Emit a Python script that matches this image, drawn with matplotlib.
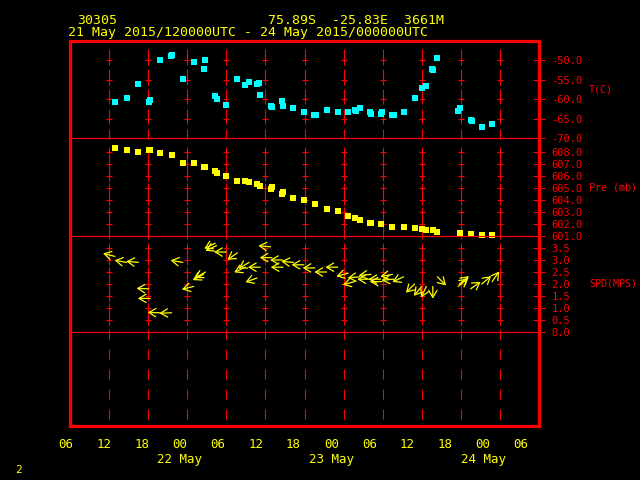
"""Meteogram of station 30305, 21-24 May 2015, drawn in the GEMPAK look."""

import matplotlib

matplotlib.use("Agg")
import matplotlib.dates as mdates
import matplotlib.pyplot as plt
import numpy as np
import pandas as pd
from matplotlib.ticker import FixedLocator, FormatStrFormatter

plt.rcParams["axes.unicode_minus"] = False
plt.rcParams["lines.scale_dashes"] = False
plt.rcParams["font.family"] = ["DejaVu Sans Mono"]

RED = "#ff0000"
YELLOW = "#ffff00"
CYAN = "#00ffff"

START = pd.Timestamp("2015-05-21 00:00")
X_START = pd.Timestamp("2015-05-21 06:00")
X_END = pd.Timestamp("2015-05-24 06:00")

# hours after 21 May 2015 00 UTC
temp_hours = [12.9, 14.7, 16.5, 18.1, 18.3, 19.8, 21.5, 21.7, 23.3, 25.0, 26.5, 26.8,
              28.3, 28.5, 30.0, 31.7, 32.9, 33.5, 34.7, 35.0, 35.2, 36.8, 37.0, 38.6,
              38.7, 40.3, 41.9, 43.5, 43.8, 45.4, 47.1, 48.7, 49.7, 49.9, 50.5, 52.0,
              52.2, 53.7, 53.9, 55.5, 55.7, 57.2, 58.9, 60.0, 60.7, 61.6, 61.8, 62.4,
              65.6, 65.9, 67.5, 67.7, 69.2, 70.8]
temp_c = [-60.6, -59.7, -56.0, -60.7, -60.3, -49.9, -48.9, -48.5, -54.8, -50.4, -52.2, -49.9,
          -59.2, -60.0, -61.5, -54.8, -56.3, -55.6, -56.2, -55.9, -58.9, -61.8, -62.1, -60.5,
          -61.8, -62.3, -63.3, -64.1, -64.1, -62.8, -63.3, -63.3, -62.8, -63.0, -62.3, -63.3,
          -63.8, -63.8, -63.3, -64.1, -64.1, -63.3, -59.7, -57.1, -56.6, -52.2, -52.5, -49.4,
          -63.0, -62.3, -65.4, -65.6, -67.2, -66.4]

pres_hours = [12.9, 14.7, 16.5, 18.1, 18.3, 19.8, 21.6, 23.3, 25.0, 26.5, 26.8, 28.3,
              28.5, 30.0, 31.7, 32.9, 33.5, 34.7, 35.2, 36.8, 37.0, 38.6, 38.7, 40.3,
              41.9, 43.6, 45.4, 47.1, 48.7, 49.7, 50.5, 52.0, 52.2, 53.7, 55.5, 57.2,
              58.9, 60.0, 60.7, 61.7, 62.4, 65.8, 67.5, 69.2, 70.8]
pres_mb = [608.33, 608.17, 608.0, 608.17, 608.17, 607.9, 607.75, 607.08, 607.08, 606.75,
           606.75, 606.4, 606.25, 606.0, 605.6, 605.6, 605.5, 605.33, 605.17, 604.95,
           605.05, 604.5, 604.65, 604.2, 604.0, 603.67, 603.25, 603.1, 602.67, 602.5,
           602.33, 602.1, 602.05, 602.0, 601.75, 601.75, 601.67, 601.6, 601.5, 601.5,
           601.33, 601.25, 601.17, 601.08, 601.08]

wind_hours = [12.9, 14.7, 16.5, 18.1, 18.3, 19.8, 21.6, 23.3, 25.0, 26.5, 26.8, 28.3,
              28.5, 30.0, 31.7, 32.9, 33.5, 34.7, 35.2, 36.8, 37.0, 38.6, 38.7, 40.3,
              41.9, 43.6, 45.4, 47.1, 48.7, 49.7, 50.5, 52.0, 52.2, 53.7, 53.9, 55.5,
              55.7, 57.2, 58.9, 60.0, 60.7, 61.7, 62.4, 65.6, 65.8, 67.5, 69.2, 70.8]
wind_spd = [3.15, 2.9, 2.9, 1.8, 1.4, 0.8, 0.8, 2.9, 1.9, 2.4, 2.5, 3.7,
            3.6, 3.33, 3.3, 2.7, 2.9, 2.25, 2.7, 3.55, 3.1, 3.0, 2.7, 2.9,
            2.8, 2.67, 2.5, 2.7, 2.45, 2.1, 2.3, 2.2, 2.4, 2.2, 2.1, 2.4,
            2.2, 2.3, 2.0, 1.9, 1.9, 1.9, 2.3, 1.9, 2.0, 1.8, 2.0, 2.1]
# direction the arrow points to, degrees counter-clockwise from east
wind_dir = [166, 170, 175, 178, 180, 178, 182, 170, 194, 208, 210, 206,
            205, 180, 215, 205, 210, 200, 180, 175, 180, 180, 180, 175,
            180, 180, 180, 180, 195, 195, 185, 180, 185, 180, 180, 190,
            185, 205, 225, 230, 245, 270, 315, 40, 40, 35, 40, 55]

temp_ticks = [-70, -65, -60, -55, -50]
pres_ticks = [601, 602, 603, 604, 605, 606, 607, 608]
spd_ticks = [0.0, 0.5, 1.0, 1.5, 2.0, 2.5, 3.0, 3.5]


def to_num(hours):
    times = START + pd.to_timedelta(np.asarray(hours, dtype=float), unit="h")
    return mdates.date2num(times.to_pydatetime())


def px_box(left, top, right, bottom):
    return [left / 640, 1 - bottom / 480, (right - left) / 640, (bottom - top) / 480]


def style_panel(ax, ticks, ylim, label, grid_x):
    ax.set_facecolor("none")
    ax.set_xlim(mdates.date2num(X_START), mdates.date2num(X_END))
    ax.set_ylim(*ylim)
    ax.set_xticks([])
    ax.yaxis.tick_right()
    ax.yaxis.set_major_locator(FixedLocator(ticks))
    ax.yaxis.set_major_formatter(FormatStrFormatter("%.1f"))
    ax.tick_params(axis="y", direction="inout", length=8, width=0.8, color=RED,
                   labelcolor=RED, labelsize=7.5, pad=5)
    for spine in ax.spines.values():
        spine.set_color(RED)
        spine.set_linewidth(0.8)
    inner = [v for v in ticks if ylim[0] < v < ylim[1]]
    gx, gy = np.meshgrid(grid_x, inner)
    ax.plot(gx.ravel(), gy.ravel(), ls="none", marker="_", ms=5, mew=0.8, color=RED)
    ax.plot(gx.ravel(), gy.ravel(), ls="none", marker="|", ms=7.5, mew=0.8, color=RED)
    ax.text(1.107, 0.5, label, transform=ax.transAxes, ha="left", va="center",
            color=RED, fontsize=7.2)


def main():
    fig = plt.figure(figsize=(6.4, 4.8), dpi=100, facecolor="black")
    grid_x = mdates.date2num(pd.date_range("2015-05-21 12:00", "2015-05-24 00:00", freq="6h").to_pydatetime())
    xlim = (mdates.date2num(X_START), mdates.date2num(X_END))

    # frame and dashed time lines behind all panels
    ax_frame = fig.add_axes(px_box(70, 41, 539, 426))
    ax_frame.set_facecolor("black")
    ax_frame.set_xlim(*xlim)
    ax_frame.set_ylim(0, 1)
    ax_frame.tick_params(which="both", length=0, labelbottom=False, labelleft=False)
    for spine in ax_frame.spines.values():
        spine.set_color(RED)
        spine.set_linewidth(2.3)
    for x in grid_x:
        ax_frame.axvline(x, color=RED, lw=0.8, ls=(9.4, (7.2, 7.2)))

    ax_t = fig.add_axes(px_box(70, 41, 539, 138))
    ax_p = fig.add_axes(px_box(70, 138, 539, 236))
    ax_s = fig.add_axes(px_box(70, 236, 539, 332))
    style_panel(ax_t, temp_ticks, (-70, -45), "T(C)", grid_x)
    style_panel(ax_p, pres_ticks, (601, 609.15), "Pre (mb)", grid_x)
    style_panel(ax_s, spd_ticks, (0, 4), "SPD(MPS)", grid_x)

    ax_t.plot(to_num(temp_hours), temp_c, ls="none", marker="s", ms=3.8, mew=0, color=CYAN,
              clip_on=False, zorder=5)
    ax_p.plot(to_num(pres_hours), pres_mb, ls="none", marker="s", ms=3.8, mew=0, color=YELLOW,
              clip_on=False, zorder=5)

    arrow_len = 8.8  # points
    for x, spd, ang in zip(to_num(wind_hours), wind_spd, wind_dir):
        rad = np.deg2rad(ang)
        ax_s.annotate("", xy=(x, spd), xytext=(arrow_len * np.cos(rad), arrow_len * np.sin(rad)),
                      textcoords="offset points",
                      arrowprops=dict(arrowstyle="<-,head_length=0.5,head_width=0.3",
                                      color=YELLOW, lw=0.9, shrinkA=0, shrinkB=0))

    # time labels sit on their own slightly narrower scale, as in the original
    ax_lab = fig.add_axes(px_box(66, 425, 521, 426))
    ax_lab.set_facecolor("none")
    ax_lab.set_xlim(*xlim)
    ax_lab.set_yticks([])
    for spine in ax_lab.spines.values():
        spine.set_visible(False)
    ax_lab.xaxis.set_major_locator(mdates.HourLocator(byhour=[0, 6, 12, 18]))
    ax_lab.xaxis.set_major_formatter(mdates.DateFormatter("%H"))
    ax_lab.xaxis.set_minor_locator(mdates.DayLocator(bymonthday=[22, 23, 24]))
    ax_lab.xaxis.set_minor_formatter(mdates.DateFormatter("%d %b"))
    ax_lab.xaxis.remove_overlapping_locs = False
    ax_lab.tick_params(axis="x", which="major", length=0, pad=9, labelcolor=YELLOW, labelsize=9)
    ax_lab.tick_params(axis="x", which="minor", length=0, pad=19.5, labelcolor=YELLOW, labelsize=9)

    fig.text(77 / 640, 1 - 23.5 / 480, "30305", color=YELLOW, fontsize=9.5, va="baseline")
    fig.text(268 / 640, 1 - 23.5 / 480, "75.89S  -25.83E  3661M", color=YELLOW, fontsize=9.5,
             va="baseline")
    fig.text(68 / 640, 1 - 36.3 / 480, "21 May 2015/120000UTC - 24 May 2015/000000UTC",
             color=YELLOW, fontsize=9.5, va="baseline")
    fig.text(18 / 640, 1 - 470 / 480, "2", color=YELLOW, fontsize=8, ha="center", va="center")

    fig.savefig("out.png", dpi=100, facecolor="black")
    plt.close(fig)


if __name__ == "__main__":
    main()
